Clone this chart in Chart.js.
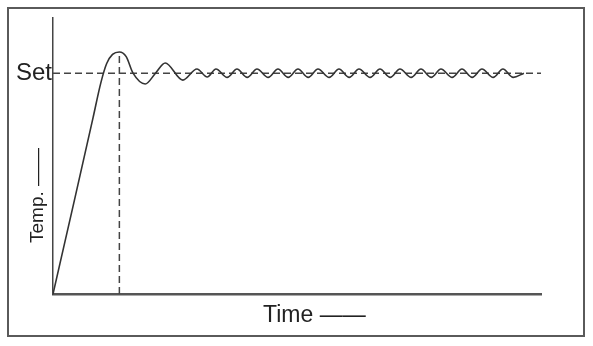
<!DOCTYPE html>
<html>
<head>
<meta charset="utf-8">
<script src="https://cdn.jsdelivr.net/npm/chart.js@4/dist/chart.umd.min.js"></script>
<style>
  html, body { margin: 0; padding: 0; background: #fff; }
  #wrap { position: relative; width: 593px; height: 346px; }
  #frame { position: absolute; left: 7px; top: 7px; width: 574px; height: 326px; border: 2px solid #5a5a5a; }
  canvas { position: absolute; left: 0; top: 0; }
</style>
</head>
<body>
<div id="wrap">
  <div id="frame"></div>
  <canvas id="grafico" width="593" height="346"></canvas>
</div>
<script>
// tiempo (0-100) y temperatura (0-100)
const tiempos = [0, 4.3, 8.2, 9.8, 11.0, 12.2, 13.6, 15.0, 16.4, 18.9, 21.0, 23.0, 26.6, 29.5, 31.6,
    33.4, 35.7, 37.7, 39.8, 41.8, 44.1, 46.1, 48.2, 50.2, 52.3, 54.3, 56.6, 58.6, 60.7,
    62.7, 65.0, 67.0, 69.1, 71.1, 73.4, 75.4, 77.5, 79.5, 81.8, 83.8, 85.9, 87.9, 90.2,
    92.2, 94.3, 96.5];
const temperaturas = [0, 33.3, 63.8, 76.5, 83.5, 86.8, 87.7, 86.0, 80, 76.1, 80, 83.7, 77.5, 81.5, 78.6,
    81.5, 78.5, 81.5, 78.5, 81.5, 78.5, 81.5, 78.5, 81.5, 78.5, 81.5, 78.5, 81.5, 78.5,
    81.5, 78.5, 81.5, 78.5, 81.5, 78.5, 81.5, 78.5, 81.5, 78.5, 81.5, 78.5, 81.5, 78.5,
    81.5, 78.5, 80];

const consigna = 80;
const tiempoPico = 13.6;
const tempPico = 87.7;
const etiquetaY = 'Temp. \u2014\u2014';
const etiquetaX = 'Time \u2014\u2014';
const etiquetaSet = 'Set';

const curva = tiempos.map((t, i) => ({ x: t, y: temperaturas[i] }));

const etiquetasEjes = {
    id: 'etiquetasEjes',
    afterDraw(chart) {
        const { ctx, chartArea } = chart;
        ctx.save();
        ctx.fillStyle = '#222';
        ctx.font = '19px "Liberation Sans", Arial, sans-serif';
        ctx.translate(chartArea.left - 15, chartArea.bottom - 51);
        ctx.rotate(-Math.PI / 2);
        ctx.textAlign = 'left';
        ctx.textBaseline = 'middle';
        ctx.fillText(etiquetaY, 0, 0);
        ctx.restore();

        ctx.save();
        ctx.fillStyle = '#222';
        ctx.font = '23px "Liberation Sans", Arial, sans-serif';
        ctx.textAlign = 'left';
        ctx.textBaseline = 'middle';
        ctx.fillText(etiquetaX, chartArea.left + 210, chartArea.bottom + 22);
        ctx.restore();
    }
};

new Chart(document.getElementById('grafico'), {
    type: 'line',
    data: {
        datasets: [
            {
                data: curva,
                borderColor: '#333',
                borderWidth: 1.6,
                pointRadius: 0,
                cubicInterpolationMode: 'monotone',
                fill: false
            },
            {
                data: [{ x: 0, y: consigna }, { x: 100, y: consigna }],
                borderColor: '#444',
                borderWidth: 1.5,
                borderDash: [7, 4],
                pointRadius: 0
            },
            {
                data: [{ x: tiempoPico, y: 0 }, { x: tiempoPico, y: tempPico }],
                borderColor: '#444',
                borderWidth: 1.5,
                borderDash: [7, 4],
                pointRadius: 0
            }
        ]
    },
    options: {
        responsive: false,
        animation: false,
        layout: { padding: { left: 0, top: 18, right: 52, bottom: 52 } },
        plugins: { legend: { display: false }, tooltip: { enabled: false } },
        scales: {
            x: {
                type: 'linear',
                min: 0,
                max: 100,
                grid: { display: false, drawTicks: false },
                border: { display: true, color: '#555', width: 2.5 },
                ticks: { display: false },
                afterFit: (s) => { s.height = 0; }
            },
            y: {
                min: 0,
                max: 100,
                grid: { display: false, drawTicks: false },
                border: { display: true, color: '#444', width: 1.5 },
                afterBuildTicks: (s) => { s.ticks = [{ value: consigna }]; },
                ticks: {
                    padding: 1,
                    color: '#222',
                    font: { family: '"Liberation Sans", Arial, sans-serif', size: 24 },
                    callback: () => etiquetaSet
                },
                afterFit: (s) => { s.width = 53; }
            }
        }
    },
    plugins: [etiquetasEjes]
});
</script>
</body>
</html>
